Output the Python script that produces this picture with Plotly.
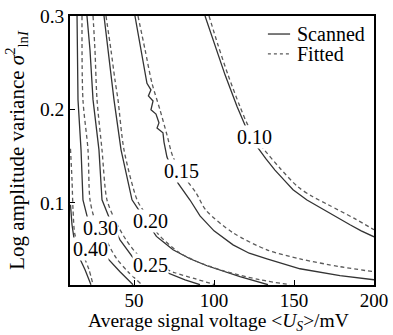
import plotly.graph_objects as go

# ---- data (x: <U_S> in mV, y: sigma^2_lnI) ----
scan_010_x = [94.4, 100.6, 106.9, 114.4, 119.4, 123.0, 126.9, 132.5, 138.1, 144.0, 149.4, 158.1, 168.1, 176.0, 185.0, 192.0, 200.0]
scan_010_y = [0.300, 0.269, 0.237, 0.203, 0.183, 0.172, 0.160, 0.147, 0.135, 0.124, 0.114, 0.103, 0.093, 0.085, 0.0765, 0.070, 0.0636]
fit_010_x = [96.9, 102.5, 108.75, 116.25, 121.25, 130.0, 141.25, 152.5, 161.25, 171.25, 188.0, 200.0]
fit_010_y = [0.300, 0.269, 0.237, 0.203, 0.183, 0.160, 0.137, 0.117, 0.107, 0.098, 0.083, 0.0711]

scan_015_x = [50.6, 54.4, 58.1, 60.6, 59.0, 61.9, 60.6, 63.75, 65.6, 64.4, 68.1, 68.75, 70.6, 77.5, 85.0, 91.25, 100.0, 111.9, 122.0, 133.1, 153.75, 178.75, 200.0]
scan_015_y = [0.300, 0.264, 0.228, 0.221, 0.2144, 0.209, 0.1995, 0.195, 0.1856, 0.180, 0.175, 0.165, 0.149, 0.121, 0.103, 0.086, 0.070, 0.055, 0.046, 0.040, 0.0294, 0.022, 0.0176]
fit_015_x = [52.5, 56.9, 61.25, 66.25, 70.6, 74.4, 81.9, 88.75, 95.0, 111.9, 133.1, 153.75, 178.75, 200.0]
fit_015_y = [0.300, 0.264, 0.228, 0.1995, 0.1727, 0.149, 0.1267, 0.1107, 0.092, 0.0679, 0.0497, 0.040, 0.0316, 0.0262]

scan_020_x = [31.25, 33.75, 36.25, 37.5, 41.9, 48.75, 53.75, 61.9, 64.0, 68.0, 74.4, 85.0, 95.6, 116.25, 133.75]
scan_020_y = [0.300, 0.2636, 0.2316, 0.2102, 0.1567, 0.1032, 0.0904, 0.069, 0.0640, 0.0585, 0.0497, 0.0401, 0.0326, 0.0209, 0.0123]
fit_020_x = [32.5, 35.6, 38.1, 40.0, 43.75, 51.9, 56.25, 65.0, 77.5, 88.1, 105.6, 128.75, 147.5]
fit_020_y = [0.300, 0.2636, 0.2316, 0.2102, 0.1567, 0.1032, 0.0904, 0.0668, 0.0476, 0.038, 0.0273, 0.0176, 0.0123]

scan_025_x = [20.6, 22.5, 24.4, 28.1, 30.0, 35.0, 41.25, 49.4, 60.0, 71.25, 81.9, 91.25]
scan_025_y = [0.300, 0.2636, 0.2102, 0.1567, 0.1032, 0.0818, 0.0604, 0.0412, 0.0326, 0.0251, 0.0176, 0.0123]
fit_025_x = [24.4, 25.6, 26.9, 30.0, 33.1, 38.1, 45.0, 53.75, 65.0, 75.6, 88.1, 100.6]
fit_025_y = [0.300, 0.2636, 0.2102, 0.1567, 0.1032, 0.0818, 0.0604, 0.0422, 0.0326, 0.0251, 0.0187, 0.0123]

scan_030_x = [14.4, 15.0, 16.9, 18.1, 21.25, 27.5, 33.1, 41.25, 49.4]
scan_030_y = [0.300, 0.2102, 0.1567, 0.1032, 0.0818, 0.0604, 0.0412, 0.0262, 0.0123]
fit_030_x = [17.5, 18.1, 21.25, 22.5, 25.6, 32.5, 38.75, 46.25, 55.0]
fit_030_y = [0.300, 0.2102, 0.1567, 0.1032, 0.0818, 0.0604, 0.0412, 0.0262, 0.0123]

scan_040_x = [10.3, 11.25, 13.1, 15.6, 19.4, 23.1]
scan_040_y = [0.0979, 0.0765, 0.0551, 0.0422, 0.0283, 0.0123]
fit_040_x = [10.3, 11.25, 11.9, 13.1, 16.25, 18.75, 21.9, 24.4]
fit_040_y = [0.1578, 0.1246, 0.0925, 0.0658, 0.0519, 0.0422, 0.0283, 0.0123]

label_text = ["0.10", "0.15", "0.20", "0.25", "0.30", "0.40"]
label_x = [125.6, 79.4, 60.0, 60.0, 28.75, 22.5]
label_y = [0.1706, 0.1342, 0.0807, 0.0337, 0.0733, 0.0508]

legend_names = ["Scanned", "Fitted"]

x_ticks = [50, 100, 150, 200]
y_ticks = [0.1, 0.2, 0.3]
y_tick_text = ["0.1", "0.2", "0.3"]

x_title = "Average signal voltage &lt;<i>U</i><sub><i>S</i></sub>&gt;/mV"
y_title = "Log amplitude variance <i>σ</i><sup>2</sup><sub>ln<i>I</i></sub>"

FONT = "Liberation Serif, Times New Roman, serif"
SOLID_C = "#333333"
DASH_C = "#5a5a5a"
DASH = "4px,3px"

scanned = [(scan_010_x, scan_010_y), (scan_015_x, scan_015_y), (scan_020_x, scan_020_y),
           (scan_025_x, scan_025_y), (scan_030_x, scan_030_y), (scan_040_x, scan_040_y)]
fitted = [(fit_010_x, fit_010_y), (fit_015_x, fit_015_y), (fit_020_x, fit_020_y),
          (fit_025_x, fit_025_y), (fit_030_x, fit_030_y), (fit_040_x, fit_040_y)]

fig = go.Figure()
for xs, ys in scanned:
    fig.add_trace(go.Scatter(x=xs, y=ys, mode="lines", name=legend_names[0], showlegend=False,
                             line=dict(color=SOLID_C, width=1.3)))
for xs, ys in fitted:
    fig.add_trace(go.Scatter(x=xs, y=ys, mode="lines", name=legend_names[1], showlegend=False,
                             line=dict(color=DASH_C, width=1.3, dash=DASH, shape="spline", smoothing=0.8)))

# contour labels (white background breaks the line underneath)
for t, lx, ly in zip(label_text, label_x, label_y):
    fig.add_annotation(x=lx, y=ly, text=t, showarrow=False, bgcolor="white",
                       borderpad=0, font=dict(family=FONT, size=20, color="black"))

# legend (drawn in paper coordinates)
leg_x0, leg_x1, leg_tx = 0.651, 0.724, 0.740
leg_rows = [0.933, 0.859]
leg_styles = [dict(color=SOLID_C, width=1.3), dict(color=DASH_C, width=1.3, dash="3px,3px")]
for name, ry, st in zip(legend_names, leg_rows, leg_styles):
    fig.add_shape(type="line", xref="paper", yref="paper", x0=leg_x0, x1=leg_x1,
                  y0=ry, y1=ry, line=st)
    fig.add_annotation(xref="paper", yref="paper", x=leg_tx, y=ry, text=name,
                       showarrow=False, xanchor="left", yanchor="middle",
                       font=dict(family=FONT, size=20, color="black"))

# x-axis title as a positioned text
fig.add_annotation(xref="paper", yref="paper", x=0.487, y=-0.138, text=x_title,
                   showarrow=False, xanchor="center", yanchor="middle",
                   font=dict(family=FONT, size=19.5, color="black"))

fig.update_layout(
    width=393, height=335,
    margin=dict(l=70, r=19, t=16, b=50),
    paper_bgcolor="white", plot_bgcolor="white",
    font=dict(family=FONT, size=19, color="black"),
    showlegend=False,
)
fig.update_xaxes(range=[10, 200], tickvals=x_ticks, ticks="inside", ticklen=5,
                 tickcolor="black", showgrid=False, zeroline=False, automargin=False,
                 showline=True, linecolor="black", linewidth=1.5, mirror=True,
                 ticklabelstandoff=-3, tickfont=dict(family=FONT, size=19))
fig.update_yaxes(range=[0.012, 0.3], tickvals=y_ticks, ticktext=y_tick_text,
                 ticks="inside", ticklen=5, tickcolor="black", showgrid=False,
                 zeroline=False, showline=True, linecolor="black", linewidth=1.5,
                 mirror=True, automargin=False, tickfont=dict(family=FONT, size=19.5),
                 title=dict(text=y_title, standoff=10, font=dict(family=FONT, size=21)))

fig.write_html("out.html")
